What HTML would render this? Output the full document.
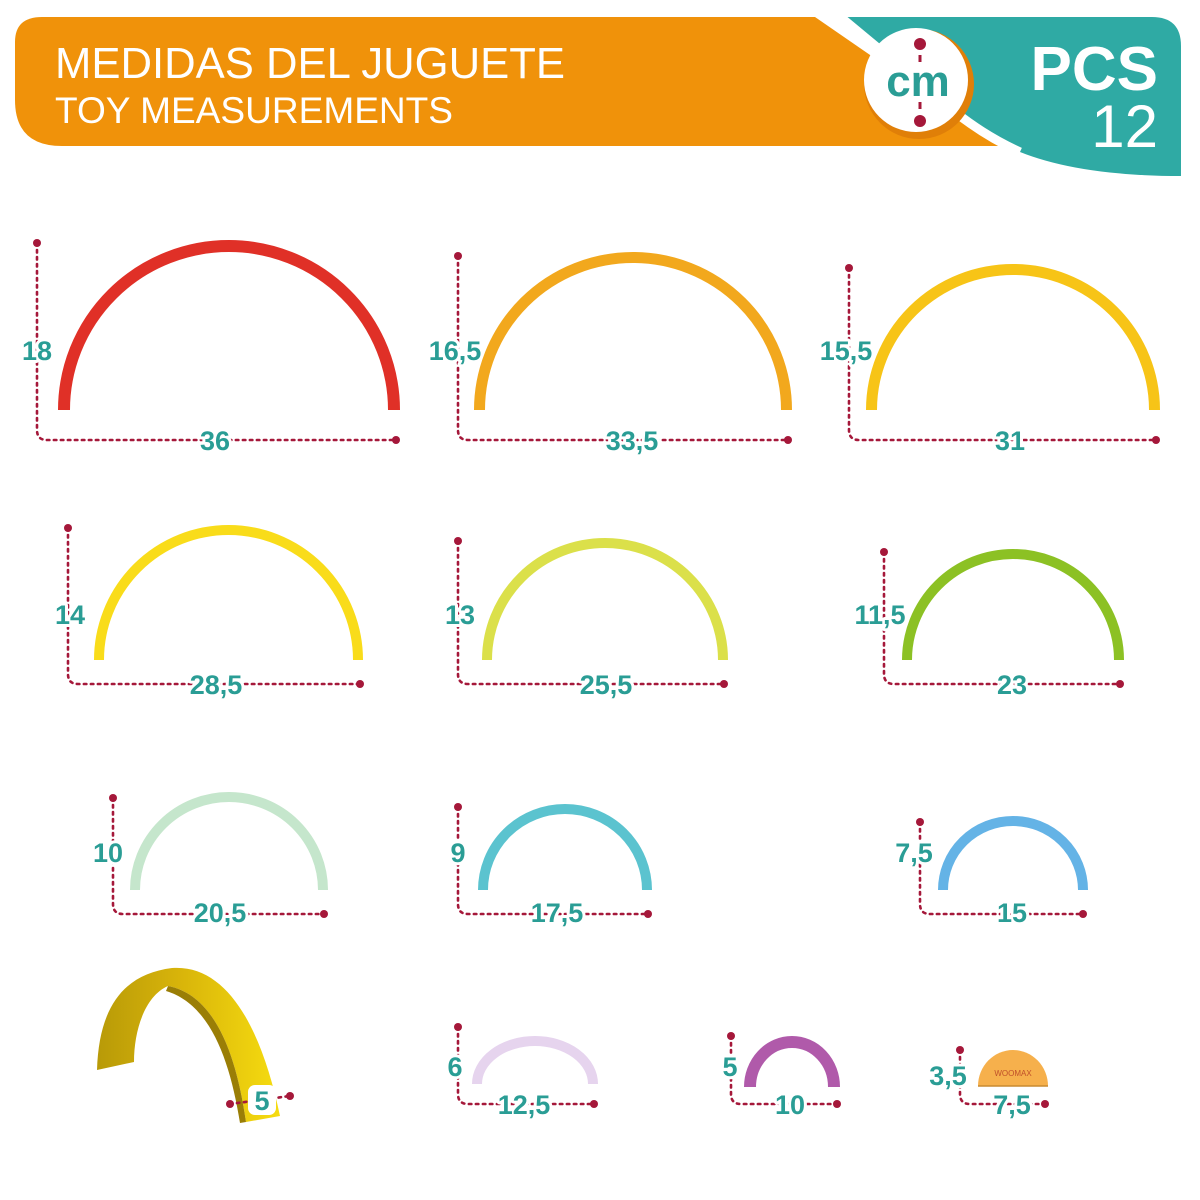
<!DOCTYPE html>
<html><head><meta charset="utf-8"><style>
html,body{margin:0;padding:0;background:#fff;}
svg{display:block;}
.g{fill:none;stroke:#a5183a;stroke-width:2.6;stroke-dasharray:2.5 4.5;stroke-linecap:round;}
.d{fill:#a5183a;}
.t{font-family:"Liberation Sans",sans-serif;font-weight:bold;fill:#2a9d95;font-size:27px;text-anchor:middle;stroke:#fff;stroke-width:6;paint-order:stroke;stroke-linejoin:round;}
.a{fill:none;stroke-linecap:butt;}
</style></head><body>
<svg width="1200" height="1200" viewBox="0 0 1200 1200" xmlns="http://www.w3.org/2000/svg">
<defs>
<linearGradient id="yg" x1="0" y1="0" x2="1" y2="0">
<stop offset="0" stop-color="#b89a08"/><stop offset="0.45" stop-color="#d8b40a"/><stop offset="1" stop-color="#f6dc10"/>
</linearGradient>
</defs>
<!-- header -->
<path d="M42,17 L815,17 L1002,146 L62,146 Q15,146 15,100 L15,42 Q15,17 42,17 Z" fill="#f0920a"/>
<path d="M840,17 L1152,17 Q1181,17 1181,46 L1181,176 Q1080,176 1020,152 Q985,136 955,112 L840,17 Z" fill="#2faaa4"/>
<path d="M838,15 L955,112 Q985,136 1020,152" fill="none" stroke="#fff" stroke-width="9"/>
<circle cx="919" cy="84" r="55" fill="#e07f08"/>
<circle cx="916" cy="80" r="52" fill="#fff"/>
<circle cx="920" cy="44" r="6" class="d"/><rect x="918.5" y="55" width="3" height="7" class="d"/>
<rect x="918.5" y="102" width="3" height="7" class="d"/><circle cx="920" cy="121" r="6" class="d"/>
<text x="918" y="96" font-family="Liberation Sans,sans-serif" font-weight="bold" font-size="44" fill="#2a9d95" text-anchor="middle">cm</text>
<text x="55" y="78" font-family="Liberation Sans,sans-serif" font-size="44" fill="#fff" textLength="510" lengthAdjust="spacingAndGlyphs">MEDIDAS DEL JUGUETE</text>
<text x="55" y="123" font-family="Liberation Sans,sans-serif" font-size="37" fill="#fff" textLength="398" lengthAdjust="spacingAndGlyphs">TOY MEASUREMENTS</text>
<text x="1158" y="90" font-family="Liberation Sans,sans-serif" font-weight="bold" font-size="62" fill="#fff" text-anchor="end">PCS</text>
<text x="1158" y="147" font-family="Liberation Sans,sans-serif" font-size="60" fill="#fff" text-anchor="end">12</text>

<!-- arches -->
<path class="a" stroke="#e03027" stroke-width="12" d="M64,410 A165,164 0 0 1 394,410"/>
<path class="a" stroke="#f2a81d" stroke-width="11" d="M479.5,410 A153.5,152.5 0 0 1 786.5,410"/>
<path class="a" stroke="#f7c417" stroke-width="11" d="M871.5,410 A141.5,140.5 0 0 1 1154.5,410"/>
<path class="a" stroke="#f9dc1a" stroke-width="10" d="M99,660 A129.5,130 0 0 1 358,660"/>
<path class="a" stroke="#dbe04a" stroke-width="10" d="M487,660 A118,117 0 0 1 723,660"/>
<path class="a" stroke="#8cc124" stroke-width="10" d="M907,660 A106,106 0 0 1 1119,660"/>
<path class="a" stroke="#c5e6cc" stroke-width="10" d="M135,890 A94,93 0 0 1 323,890"/>
<path class="a" stroke="#5bc3cf" stroke-width="10" d="M483,890 A82,81 0 0 1 647,890"/>
<path class="a" stroke="#64b3e6" stroke-width="10" d="M943,890 A70,69 0 0 1 1083,890"/>
<path class="a" stroke="#e6d4ee" stroke-width="10" d="M477,1084 A58,43 0 0 1 593,1084"/>
<path class="a" stroke="#b05aaa" stroke-width="12" d="M750,1087 A42,45 0 0 1 834,1087"/>
<path d="M978,1086 A35,36 0 0 1 1048,1086 Z" fill="#f6b04c"/>
<line x1="978" y1="1086" x2="1048" y2="1086" stroke="#c98a30" stroke-width="1.5"/>
<text x="1013" y="1076" font-family="Liberation Sans,sans-serif" font-size="8" fill="#c0502a" text-anchor="middle">WOOMAX</text>

<!-- 3D arch -->
<path d="M97,1070 C99,1005 125,974 172,968 C228,964 262,1030 280,1116 L246,1122 C236,1052 214,995 168,986 C145,996 134,1030 134,1062 Z" fill="url(#yg)"/>
<path d="M168,986 C214,995 236,1052 246,1122 L240,1123 C230,1060 210,1004 166,991 Z" fill="#9a7e06"/>

<!-- guides -->
<g class="g">
<path d="M37,243 L37,430 Q37,440 47,440 L396,440"/>
<path d="M458,256 L458,430 Q458,440 468,440 L788,440"/>
<path d="M849,268 L849,430 Q849,440 859,440 L1156,440"/>
<path d="M68,528 L68,674 Q68,684 78,684 L360,684"/>
<path d="M458,541 L458,674 Q458,684 468,684 L724,684"/>
<path d="M884,552 L884,674 Q884,684 894,684 L1120,684"/>
<path d="M113,798 L113,904 Q113,914 123,914 L324,914"/>
<path d="M458,807 L458,904 Q458,914 468,914 L648,914"/>
<path d="M920,822 L920,904 Q920,914 930,914 L1083,914"/>
<path d="M458,1027 L458,1094 Q458,1104 468,1104 L594,1104"/>
<path d="M731,1036 L731,1094 Q731,1104 741,1104 L837,1104"/>
<path d="M960,1050 L960,1094 Q960,1104 970,1104 L1045,1104"/>
<path d="M230,1104 L290,1096"/>
</g>
<g class="d">
<circle cx="37" cy="243" r="4"/><circle cx="396" cy="440" r="4"/>
<circle cx="458" cy="256" r="4"/><circle cx="788" cy="440" r="4"/>
<circle cx="849" cy="268" r="4"/><circle cx="1156" cy="440" r="4"/>
<circle cx="68" cy="528" r="4"/><circle cx="360" cy="684" r="4"/>
<circle cx="458" cy="541" r="4"/><circle cx="724" cy="684" r="4"/>
<circle cx="884" cy="552" r="4"/><circle cx="1120" cy="684" r="4"/>
<circle cx="113" cy="798" r="4"/><circle cx="324" cy="914" r="4"/>
<circle cx="458" cy="807" r="4"/><circle cx="648" cy="914" r="4"/>
<circle cx="920" cy="822" r="4"/><circle cx="1083" cy="914" r="4"/>
<circle cx="458" cy="1027" r="4"/><circle cx="594" cy="1104" r="4"/>
<circle cx="731" cy="1036" r="4"/><circle cx="837" cy="1104" r="4"/>
<circle cx="960" cy="1050" r="4"/><circle cx="1045" cy="1104" r="4"/>
<circle cx="230" cy="1104" r="4"/><circle cx="290" cy="1096" r="4"/>
</g>
<rect x="248" y="1085" width="28" height="30" rx="7" fill="#fff"/>
<!-- labels -->
<g class="t">
<text x="37" y="360">18</text><text x="215" y="450">36</text>
<text x="455" y="360">16,5</text><text x="632" y="450">33,5</text>
<text x="846" y="360">15,5</text><text x="1010" y="450">31</text>
<text x="70" y="624">14</text><text x="216" y="694">28,5</text>
<text x="460" y="624">13</text><text x="606" y="694">25,5</text>
<text x="880" y="624">11,5</text><text x="1012" y="694">23</text>
<text x="108" y="862">10</text><text x="220" y="922">20,5</text>
<text x="458" y="862">9</text><text x="557" y="922">17,5</text>
<text x="914" y="862">7,5</text><text x="1012" y="922">15</text>
<text x="455" y="1076">6</text><text x="524" y="1114">12,5</text>
<text x="730" y="1076">5</text><text x="790" y="1114">10</text>
<text x="948" y="1085">3,5</text><text x="1012" y="1114">7,5</text>
<text x="262" y="1110">5</text>
</g>
</svg>
</body></html>
